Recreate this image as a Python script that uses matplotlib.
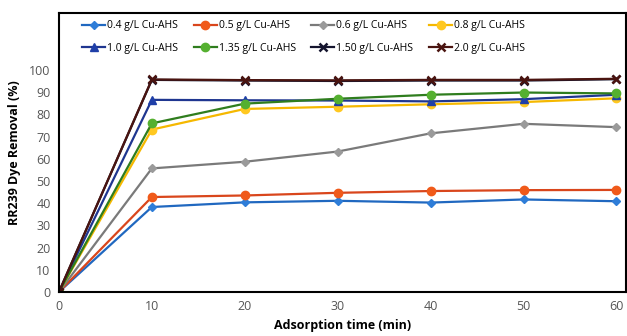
import matplotlib.pyplot as plt

plt.rcParams['font.family'] = ['Open Sans', 'DejaVu Sans']

time_min = [0, 10, 20, 30, 40, 50, 60]
labels = ['0.4 g/L Cu-AHS', '0.5 g/L Cu-AHS', '0.6 g/L Cu-AHS', '0.8 g/L Cu-AHS',
          '1.0 g/L Cu-AHS', '1.35 g/L Cu-AHS', '1.50 g/L Cu-AHS', '2.0 g/L Cu-AHS']
removal_04 = [0, 38.3, 40.4, 41.1, 40.3, 41.7, 40.9]
removal_05 = [0, 42.8, 43.5, 44.7, 45.5, 45.9, 46.0]
removal_06 = [0, 55.7, 58.7, 63.3, 71.5, 75.8, 74.3]
removal_08 = [0, 73.2, 82.5, 83.5, 84.6, 85.6, 87.3]
removal_10 = [0, 86.6, 86.4, 86.3, 85.9, 86.9, 88.9]
removal_135 = [0, 76.0, 84.9, 87.1, 88.9, 89.9, 89.5]
removal_150 = [0, 95.6, 95.3, 95.1, 95.3, 95.3, 95.9]
removal_20 = [0, 95.8, 95.5, 95.4, 95.6, 95.6, 96.1]

series = [removal_04, removal_05, removal_06, removal_08,
          removal_10, removal_135, removal_150, removal_20]
line_colors = ['#2068C0', '#D9461C', '#7A7A7A', '#F5B800',
               '#1F3690', '#2F7D1E', '#15152E', '#4A1410']
face_colors = ['#2E7DD8', '#F05A1A', '#9A9A9A', '#FFC820',
               '#1F3FA8', '#55B030', '#15152E', '#4A1410']
markers = ['D', 'o', 'D', 'o', '^', 'o', 'x', 'x']
sizes = [4, 6, 4, 6, 6, 6, 6, 6]

fig = plt.figure(figsize=(6.27, 3.36), dpi=100)
ax = fig.add_axes([0.094, 0.131, 0.904, 0.830])

for y, lab, lc, fc, m, s in zip(series, labels, line_colors, face_colors, markers, sizes):
    ax.plot(time_min, y, color=lc, marker=m, markersize=s, markerfacecolor=fc,
            markeredgecolor=fc if m != 'x' else lc, markeredgewidth=1.8 if m == 'x' else 1,
            linewidth=1.6, label=lab)

ax.set_xlim(0, 61)
ax.set_ylim(0, 125.7)
ax.set_xticks(time_min)
ax.set_yticks(range(0, 101, 10))
ax.tick_params(length=0, labelsize=9, labelcolor='#555555', pad=6)
for sp in ax.spines.values():
    sp.set_linewidth(1.5)
    sp.set_color('black')

ax.set_xlabel('Adsorption time (min)', fontsize=9, fontweight='bold', labelpad=4)
ax.set_ylabel('RR239 Dye Removal (%)', fontsize=9, fontweight='bold', labelpad=6)

# legend fills column by column, so reorder to read row by row
handles, names = ax.get_legend_handles_labels()
order = [0, 4, 1, 5, 2, 6, 3, 7]
ax.legend([handles[i] for i in order], [names[i] for i in order],
          loc='upper left', ncol=4, frameon=False, fontsize=7.5,
          bbox_to_anchor=(0.028, 1.0), handlelength=2.2, handletextpad=0.2,
          columnspacing=1.5, labelspacing=1.1, borderaxespad=0.3)

fig.savefig('out.png', dpi=100)
